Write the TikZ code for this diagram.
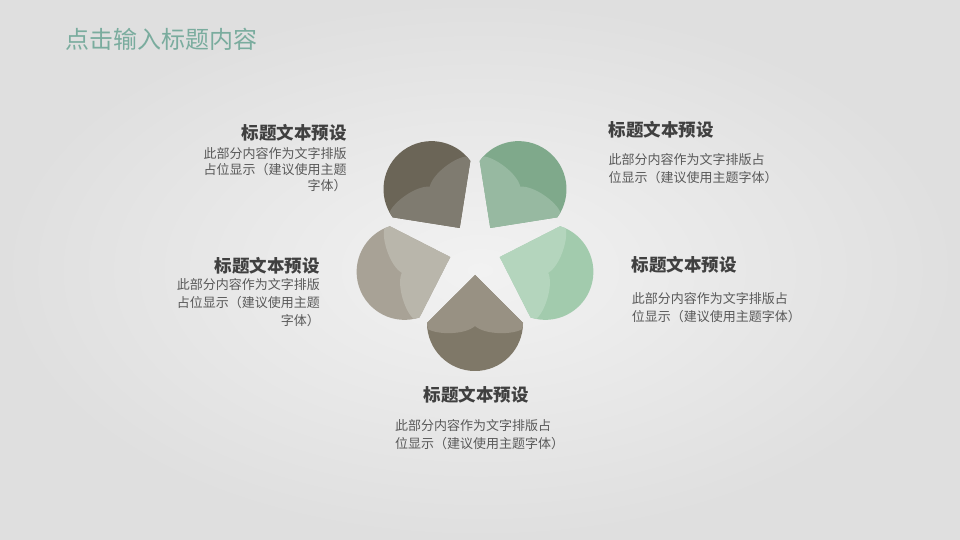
\documentclass[tikz,border=0pt]{standalone}
\usepackage{fontspec}
\setmainfont{Noto Sans CJK SC}

\definecolor{bgin}{HTML}{F2F2F2}
\definecolor{bgout}{HTML}{DFDFDF}
\definecolor{titlecol}{HTML}{7AAC9E}
\definecolor{headcol}{HTML}{404040}
\definecolor{bodycol}{HTML}{595959}
% petal colours (outer part / tip part)
\definecolor{botD}{HTML}{7F7868}\definecolor{botL}{HTML}{989183}
\definecolor{rD}{HTML}{A2CBAD}\definecolor{rL}{HTML}{B4D5BD}
\definecolor{trD}{HTML}{7FA98B}\definecolor{trL}{HTML}{97B9A1}
\definecolor{tlD}{HTML}{6B6557}\definecolor{tlL}{HTML}{7F7B70}
\definecolor{lD}{HTML}{A8A296}\definecolor{lL}{HTML}{B9B6AB}

\tikzset{
  head/.style={font=\bfseries\fontsize{17.5}{20}\selectfont, text=headcol, inner sep=0},
  body/.style={font=\fontsize{13}{16}\selectfont, text=bodycol, inner sep=0}
}

\begin{document}
\begin{tikzpicture}[x=1pt, y=1pt]
    % Background
    \useasboundingbox (0,0) rectangle (960,540);
    \shade[inner color=bgin, outer color=bgout] (0,0) rectangle (960,540);

    % Title
    \node[anchor=west, font=\fontsize{24}{28}\selectfont, text=titlecol, inner sep=0] (title) at (65,501) {点击输入标题内容};

    % Draw the petals
    \foreach \ang/\dark/\light in {-90/botD/botL, -18/rD/rL, 54/trD/trL, 126/tlD/tlL, 198/lD/lL}{
        \begin{scope}[shift={(475,291)}, rotate=\ang]
            \fill[\dark] (26,0) -- (74,48) arc[start angle=90, end angle=-90, radius=48] -- cycle;
            \fill[\light] (26,0) -- (74,48) arc[start angle=90, end angle=83, radius=48]
                .. controls (86,38) and (86,10) .. (77,0)
                .. controls (86,-10) and (86,-38) .. (79.8,-47.6)
                arc[start angle=-83, end angle=-90, radius=48] -- cycle;
        \end{scope}
    }

    % Top left text
    \node[head, anchor=east] (tlhead) at (346.7,406.7) {标题文本预设};
    \node[body, anchor=east] (tlbodya) at (346.7,386.7) {此部分内容作为文字排版};
    \node[body, anchor=east] (tlbodyb) at (346.7,370.3) {占位显示（建议使用主题};
    \node[body, anchor=east] (tlbodyc) at (346.7,354) {字体）};

    % Top right text
    \node[head, anchor=west] (trhead) at (608.3,410) {标题文本预设};
    \node[body, anchor=west] (trbodya) at (608.3,380) {此部分内容作为文字排版占};
    \node[body, anchor=west] (trbodyb) at (608.3,362) {位显示（建议使用主题字体）};

    % Left text
    \node[head, anchor=east] (lhead) at (320,274) {标题文本预设};
    \node[body, anchor=east] (lbodya) at (320,255) {此部分内容作为文字排版};
    \node[body, anchor=east] (lbodyb) at (320,237.3) {占位显示（建议使用主题};
    \node[body, anchor=east] (lbodyc) at (320,219.3) {字体）};

    % Right text
    \node[head, anchor=west] (rhead) at (631.7,275) {标题文本预设};
    \node[body, anchor=west] (rbodya) at (631.7,241) {此部分内容作为文字排版占};
    \node[body, anchor=west] (rbodyb) at (631.7,223) {位显示（建议使用主题字体）};

    % Bottom text
    \node[head, anchor=west] (bhead) at (423.3,145) {标题文本预设};
    \node[body, anchor=west] (bbodya) at (395,114) {此部分内容作为文字排版占};
    \node[body, anchor=west] (bbodyb) at (395,96) {位显示（建议使用主题字体）};

\end{tikzpicture}
\end{document}
